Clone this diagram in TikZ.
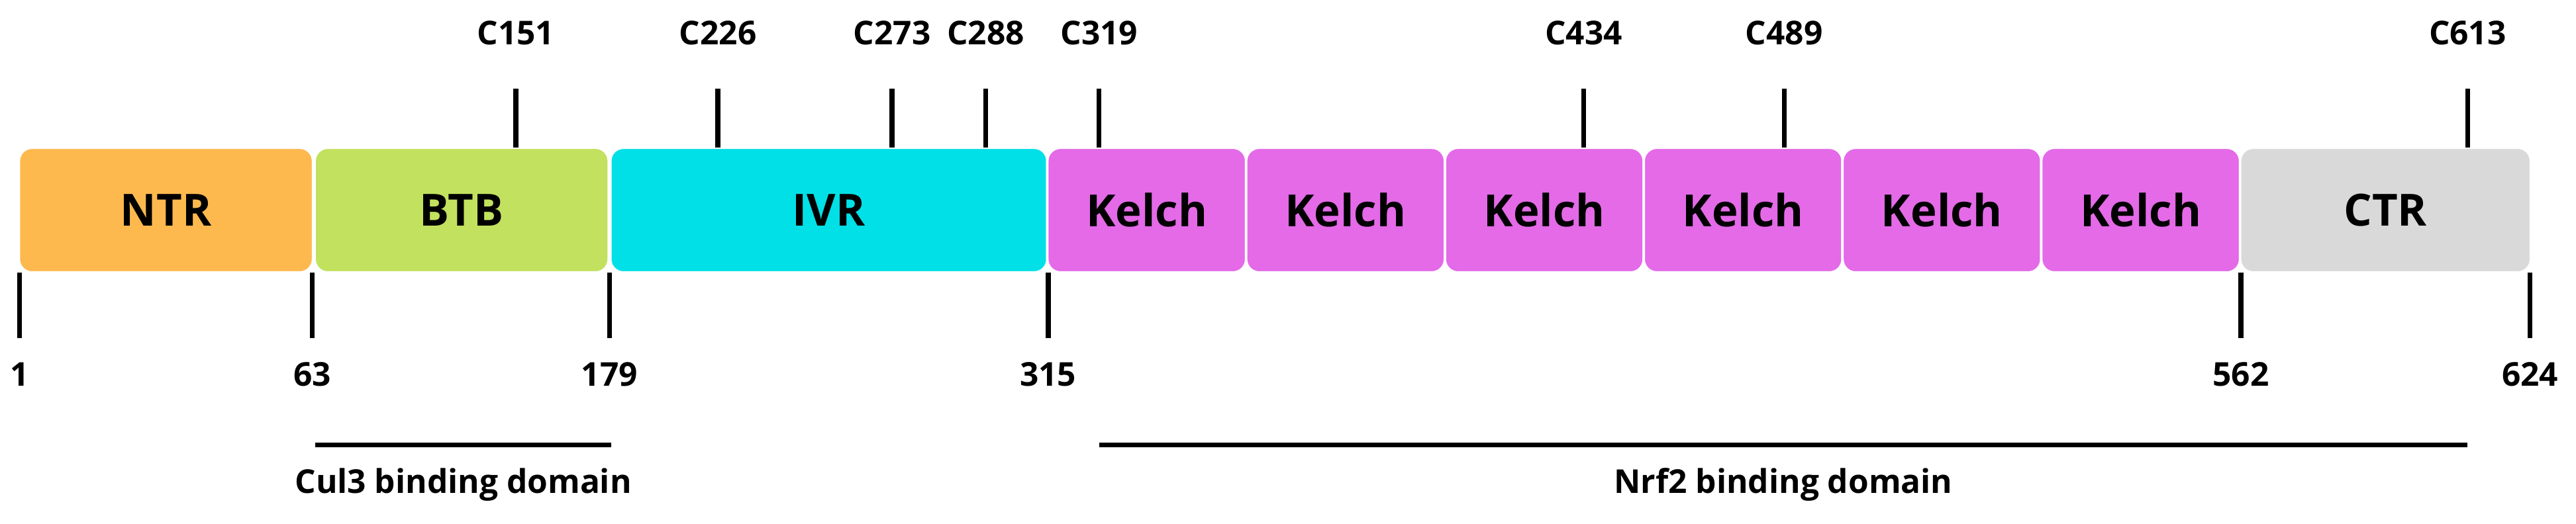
\documentclass[tikz,border=0pt]{standalone}
\usepackage{fontspec}
\setmainfont{Open Sans}
\usetikzlibrary{positioning,calc}
\definecolor{ntr}{HTML}{FDB94E}
\definecolor{btb}{HTML}{C2E15E}
\definecolor{ivr}{HTML}{00E0E6}
\definecolor{kelch}{HTML}{E46AE8}
\definecolor{ctr}{HTML}{D9D9D9}
\begin{document}
\begin{tikzpicture}[x=1pt,y=-1pt,
  dom/.style={draw=white,line width=1.5pt,rounded corners=8pt,inner sep=0pt,minimum height=76pt,font=\fontsize{27}{30}\selectfont\bfseries},
  lbl/.style={inner sep=0pt,font=\fontsize{20}{22}\selectfont\bfseries},
  tick/.style={line width=3pt}]
\useasboundingbox (0,0) rectangle (1568,319);
\node[dom,fill=ntr,minimum width=179pt] (NTR) at (101,128) {NTR};
\node[dom,fill=btb,minimum width=179pt] (BTB) at (281,128) {BTB};
\node[dom,fill=ivr,minimum width=266pt] (IVR) at (504.5,128) {IVR};
\foreach \i in {1,...,6} {
   \node[dom,fill=kelch,minimum width=121pt] (K\i) at (698+121*\i-121,128) {Kelch};
}
\node[dom,fill=ctr,minimum width=177pt] (CTR) at (1452,128) {CTR};
% residue positions
\foreach \p/\x in {1/12,63/190,179/371,315/638,562/1364,624/1540} {
  \coordinate (t\p) at (\x,166);
  \node[lbl] (n\p) at (\x,228) {\p};
  \draw[tick] (t\p) -- ++(0,40);
}
% cysteines
\foreach \c/\x in {151/314,226/437,273/543,288/600,319/669,434/964,489/1086,613/1502} {
  \coordinate (c\c) at (\x,90);
  \node[lbl] (C\c) at (\x,20) {C\c};
  \draw[tick] (c\c) -- ++(0,-36);
}
% binding domains
\coordinate (cul3a) at (192,271);
\coordinate (cul3b) at (372,271);
\draw[tick] (cul3a) -- (cul3b);
\node[lbl,below=14pt of $(cul3a)!.5!(cul3b)$] (cul3) {Cul3 binding domain};
\coordinate (nrf2a) at (669,271);
\coordinate (nrf2b) at (1502,271);
\draw[tick] (nrf2a) -- (nrf2b);
\node[lbl,below=14pt of $(nrf2a)!.5!(nrf2b)$] (nrf2) {Nrf2 binding domain};
\end{tikzpicture}
\end{document}
